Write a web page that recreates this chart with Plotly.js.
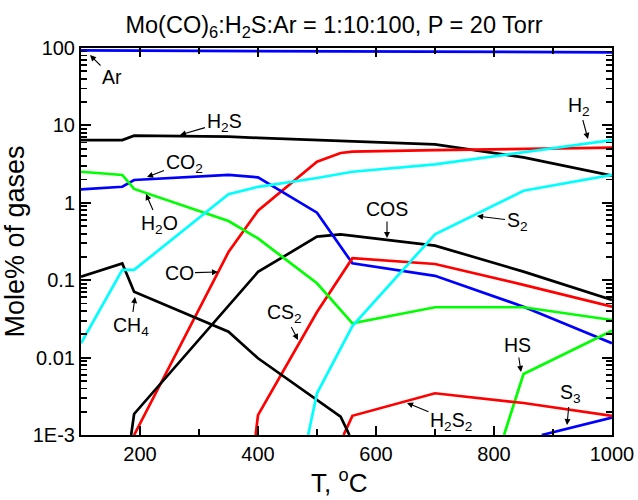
<!DOCTYPE html>
<html><head><meta charset="utf-8">
<script src="https://cdn.plot.ly/plotly-3.0.1.min.js"></script>
<style>html,body{margin:0;padding:0;background:#fff}</style>
</head><body><div id="chart" style="width:638px;height:500px"></div>
<script>
// Temperatures (°C) and mole% values
const tAr = [100, 500, 1000];
const ar = [93, 90, 88];
const tH2S = [100, 170, 190, 350, 400, 500, 700, 850, 1000];
const h2s = [6.47, 6.47, 7.37, 7.14, 6.9, 6.47, 5.7, 3.87, 2.24];
const tCO = [190, 350, 400, 500, 540, 560, 700, 1000];
const co = [0.001, 0.231, 0.79, 3.4, 4.4, 4.57, 4.8, 5.15];
const tCOS = [185, 190, 400, 500, 540, 700, 850, 1000];
const cosv = [0.001, 0.00187, 0.128, 0.365, 0.39, 0.28, 0.129, 0.0555];
const tCO2 = [100, 170, 190, 350, 400, 500, 560, 700, 850, 1000];
const co2 = [1.49, 1.61, 1.97, 2.29, 2.13, 0.745, 0.165, 0.114, 0.0455, 0.0153];
const tCS2 = [396, 400, 500, 560, 700, 850, 1000];
const cs2 = [0.001, 0.00181, 0.0388, 0.192, 0.162, 0.087, 0.0455];
const tH2O = [100, 170, 190, 350, 400, 500, 560, 700, 850, 1000];
const h2o = [2.52, 2.29, 1.51, 0.582, 0.347, 0.0912, 0.0277, 0.0447, 0.0447, 0.0306];
const tHS = [817, 850, 1000];
const hs = [0.001, 0.00614, 0.0223];
const tS3 = [881, 1000];
const s3 = [0.001, 0.00168];
const tH2S2 = [545, 560, 700, 850, 1000];
const h2s2 = [0.001, 0.00177, 0.00346, 0.00259, 0.00177];
const tCH4 = [100, 170, 190, 350, 400, 540, 555];
const ch4 = [0.111, 0.165, 0.071, 0.0216, 0.0098, 0.00172, 0.001];
const tH2 = [100, 170, 190, 350, 400, 500, 560, 700, 1000];
const h2 = [0.0153, 0.136, 0.136, 1.29, 1.61, 2.09, 2.52, 3.14, 6.47];
const tS2 = [485, 500, 560, 700, 850, 1000];
const s2 = [0.001, 0.00346, 0.0256, 0.392, 1.43, 2.29];

const yTickVals = [0.001, 0.01, 0.1, 1, 10, 100];
const yTickText = ['1E-3', '0.01', '0.1', '1', '10', '100'];
const xTickVals = [200, 400, 600, 800, 1000];
const xMinorVals = [100, 300, 500, 700, 900];

// minor ticks of the log axis: 2..9 within each decade
const yMinorVals = [];
for (let i = 0; i < yTickVals.length - 1; i++) {
  for (let k = 2; k <= 9; k++) yMinorVals.push(yTickVals[i] * k);
}

const BLACK = '#000000', RED = '#ff0000', BLUE = '#0000ff', GREEN = '#00ff00', CYAN = '#00ffff';
function tr(x, y, color, name) {
  return {x: x, y: y, type: 'scatter', mode: 'lines', name: name,
          line: {color: color, width: 2.7}, hoverinfo: 'skip'};
}
const data = [
  tr(tAr, ar, BLUE, 'Ar'),
  tr(tH2S, h2s, BLACK, 'H2S'),
  tr(tCO, co, RED, 'CO'),
  tr(tCOS, cosv, BLACK, 'COS'),
  tr(tCO2, co2, BLUE, 'CO2'),
  tr(tCS2, cs2, RED, 'CS2'),
  tr(tH2O, h2o, GREEN, 'H2O'),
  tr(tHS, hs, GREEN, 'HS'),
  tr(tS3, s3, BLUE, 'S3'),
  tr(tH2S2, h2s2, RED, 'H2S2'),
  tr(tCH4, ch4, BLACK, 'CH4'),
  tr(tH2, h2, CYAN, 'H2'),
  tr(tS2, s2, CYAN, 'S2'),
  {x: [100], y: [1], xaxis: 'x2', yaxis: 'y2', type: 'scatter', mode: 'markers',
   marker: {opacity: 0}, hoverinfo: 'skip', showlegend: false}
];

// plot area in pixels
const L = 81, R = 612, T = 48, B = 435, W = 638, H = 500;
function X(px) { return 100 + (px - L) / (R - L) * 900; }
function Y(py) { return 2 - (py - T) / (B - T) * 5; }
function ann(text, tx, ty, hx, hy) {
  return {text: text, x: X(hx), y: Y(hy), xref: 'x', yref: 'y',
          ax: tx - hx, ay: ty - hy, showarrow: true, arrowhead: 2,
          arrowsize: 1.1, arrowwidth: 1.1, arrowcolor: '#000',
          font: {size: 19.5, color: '#000'}, standoff: 0};
}
const annotations = [
  ann('Ar', 112, 77, 90, 55),
  ann('H<sub>2</sub>S', 224, 122, 180, 135),
  ann('CO<sub>2</sub>', 184, 163, 147, 177),
  ann('H<sub>2</sub>O', 159, 224, 146, 194),
  ann('CO', 179, 273, 218, 272),
  ann('CH<sub>4</sub>', 131, 326, 135, 297),
  ann('CS<sub>2</sub>', 284, 313, 298, 340),
  ann('COS', 387, 209, 387, 238),
  ann('S<sub>2</sub>', 517, 221, 477, 216),
  ann('H<sub>2</sub>', 579, 106, 588, 139),
  ann('HS', 517, 345, 521, 372),
  ann('S<sub>3</sub>', 570, 393, 567, 425),
  ann('H<sub>2</sub>S<sub>2</sub>', 451, 421, 407, 403)
];

const axBase = {showgrid: false, zeroline: false, tickcolor: '#000'};
const layout = {
  width: W, height: H,
  margin: {l: L, r: W - R, t: T, b: H - B, pad: 0},
  paper_bgcolor: '#fff', plot_bgcolor: '#fff',
  font: {family: '"Liberation Sans", Arial, sans-serif', color: '#000'},
  showlegend: false,
  title: {text: 'Mo(CO)<sub>6</sub>:H<sub>2</sub>S:Ar = 1:10:100, P = 20 Torr',
          font: {size: 23.5}, xref: 'paper', x: (334 - L) / (R - L), xanchor: 'center',
          yref: 'container', y: 1 - 25 / H, yanchor: 'middle'},
  xaxis: Object.assign({}, axBase, {
    range: [100, 1000],
    showline: true, linecolor: '#000', linewidth: 2, mirror: 'ticks',
    ticks: 'inside', ticklen: 9, tickwidth: 2,
    tickmode: 'array', tickvals: xTickVals, tickfont: {size: 20},
    title: {text: 'T, <sup>o</sup>C&nbsp;&nbsp;', font: {size: 26}, standoff: 8}
  }),
  yaxis: Object.assign({}, axBase, {
    type: 'log', range: [-3, 2],
    showline: true, linecolor: '#000', linewidth: 2, mirror: 'ticks',
    ticks: 'inside', ticklen: 10, tickwidth: 2,
    tickmode: 'array', tickvals: yTickVals, ticktext: yTickText, tickfont: {size: 20},
    title: {text: 'Mole% of gases', font: {size: 27}, standoff: 6}
  }),
  xaxis2: Object.assign({}, axBase, {
    range: [100, 1000], overlaying: 'x', anchor: 'y2', side: 'bottom',
    showline: false, mirror: 'ticks', ticks: 'inside', ticklen: 6, tickwidth: 2,
    tickmode: 'array', tickvals: xMinorVals, showticklabels: false
  }),
  yaxis2: Object.assign({}, axBase, {
    type: 'log', range: [-3, 2], overlaying: 'y', anchor: 'x2', side: 'left',
    showline: false, mirror: 'ticks', ticks: 'inside', ticklen: 6, tickwidth: 1.8,
    tickmode: 'array', tickvals: yMinorVals, showticklabels: false
  }),
  annotations: annotations
};
Plotly.newPlot('chart', data, layout, {staticPlot: true, displayModeBar: false});
</script></body></html>
